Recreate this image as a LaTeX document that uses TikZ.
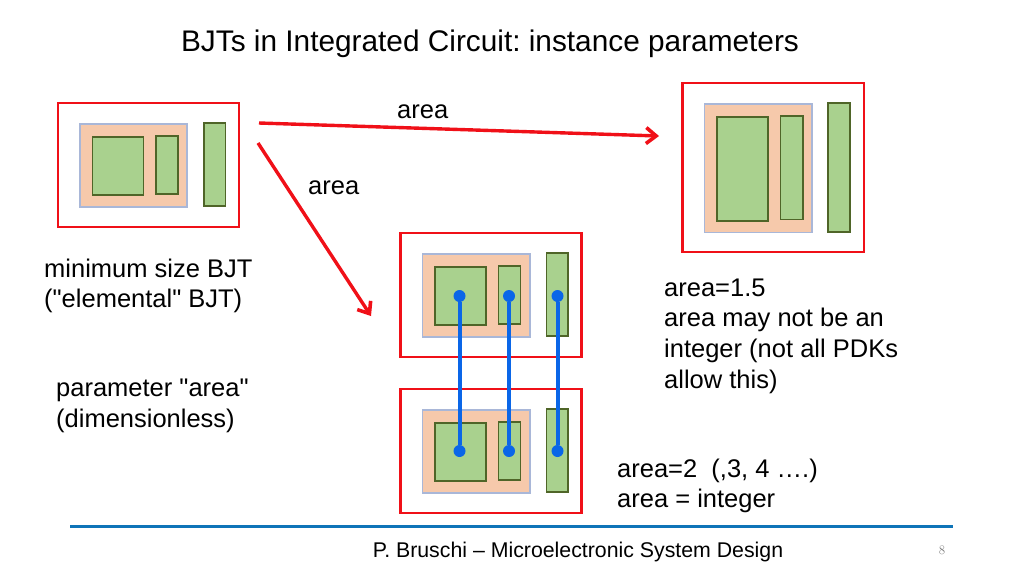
\documentclass[tikz,border=0pt]{standalone}
\usepackage{fontspec}
\defaultfontfeatures[\rmfamily]{}
\setmainfont{Liberation Sans}
\usetikzlibrary{arrows.meta}
\definecolor{framered}{HTML}{F01018}
\definecolor{wellfill}{HTML}{F6C9AB}
\definecolor{welledge}{HTML}{A9B7D8}
\definecolor{diffill}{HTML}{A9D18E}
\definecolor{difedge}{HTML}{4F6528}
\definecolor{wireblue}{HTML}{0A66E8}
\definecolor{rulecol}{HTML}{0F74B8}
\tikzset{
  size/.style 2 args={minimum width=#1pt,minimum height=#2pt,inner sep=0pt},
  frame/.style={draw=framered,line width=2.7pt,fill=white},
  well/.style={draw=welledge,line width=1.8pt,fill=wellfill},
  dif/.style={draw=difedge,line width=1.8pt,fill=diffill},
  dot/.style={circle,fill=wireblue,minimum size=12pt,inner sep=0pt},
  wire/.style={draw=wireblue,line width=4pt},
  link/.style={draw=framered,line width=3.4pt,-{Straight Barb[length=10pt,width=16pt,line width=3.6pt]}},
  label/.style={anchor=west,align=left,font=\fontsize{25.5}{30.7}\selectfont,inner sep=0pt},
}
\begin{document}
\frenchspacing
\begin{tikzpicture}[x=1pt,y=-1pt]
\useasboundingbox (0,0) rectangle (1024,576);
\node [anchor=base,font=\fontsize{29.8}{34}\selectfont,inner sep=0pt] (title) at (490,51) {BJTs in Integrated Circuit: instance parameters};

% elemental device
\node [frame,size={181}{124}] (f1) at (148.5,165) {};
\node [well,size={107}{83}] (w1) at (133.5,165.5) {};
\node [dif,size={51}{58}] (a1) at (118,166) {};
\node [dif,size={22}{58}] (b1) at (167,165) {};
\node [dif,size={21.5}{83}] (c1) at (214.75,164.5) {};

% area = 1.5
\node [frame,size={181.5}{169}] (f2) at (773.25,167.5) {};
\node [well,size={107.5}{128.5}] (w2) at (758.25,168.25) {};
\node [dif,size={51}{104}] (a2) at (742.5,169) {};
\node [dif,size={22.5}{103.5}] (b2) at (791.75,167.75) {};
\node [dif,size={22}{129}] (c2) at (839,167.5) {};

% area = 2, upper
\node [frame,size={181}{124}] (f3) at (491,295) {};
\node [well,size={107.5}{83}] (w3) at (476.25,295.5) {};
\node [dif,size={51}{58}] (a3) at (460.5,296) {};
\node [dif,size={22}{58}] (b3) at (509.5,295) {};
\node [dif,size={21.5}{83}] (c3) at (557.25,294.5) {};

% area = 2, lower
\node [frame,size={181}{124}] (f4) at (491,451) {};
\node [well,size={107.5}{83}] (w4) at (476.25,451.5) {};
\node [dif,size={51}{58}] (a4) at (460.5,452) {};
\node [dif,size={22}{58}] (b4) at (509.5,451) {};
\node [dif,size={21.5}{83}] (c4) at (557.25,450.5) {};

\node [dot] (d1) at (459.5,296) {};
\node [dot] (d2) at (509,296) {};
\node [dot] (d3) at (557.5,296) {};
\node [dot] (d4) at (459.5,451) {};
\node [dot] (d5) at (509,451) {};
\node [dot] (d6) at (557.5,451) {};
\foreach \i/\j in {d1/d4,d2/d5,d3/d6}
  \draw [wire] (\i) -- (\j);

\coordinate (s1) at (259,123);
\coordinate (e1) at (659,136);
\coordinate (s2) at (258,143);
\coordinate (e2) at (371,316);
\draw [link] (s1) -- (e1);
\draw [link] (s2) -- (e2);

\node [label] (l1) at (397,112) {area};
\node [label] (l2) at (308,188) {area};
\node [label] (t1) at (44,286) {minimum size BJT\\("elemental" BJT)};
\node [label] (t2) at (56,406) {parameter "area"\\(dimensionless)};
\node [label] (t3) at (664,336) {area=1.5\\area may not be an\\integer (not all PDKs\\allow this)};
\node [label] (t4) at (617,486) {area=2\ \ (,3, 4 ….)\\area = integer};

\coordinate (r1) at (70,526);
\coordinate (r2) at (953,526);
\draw [draw=rulecol,line width=3pt] (r1) -- (r2);
\node [anchor=base,font=\fontsize{21.3}{26}\selectfont,inner sep=0pt] (foot) at (578,557) {P. Bruschi – Microelectronic System Design};
\node [anchor=base,font=\fontfamily{lmr}\selectfont\fontsize{13}{14}\selectfont,text=gray,inner sep=0pt] (page) at (942,554) {8};
\end{tikzpicture}
\end{document}
